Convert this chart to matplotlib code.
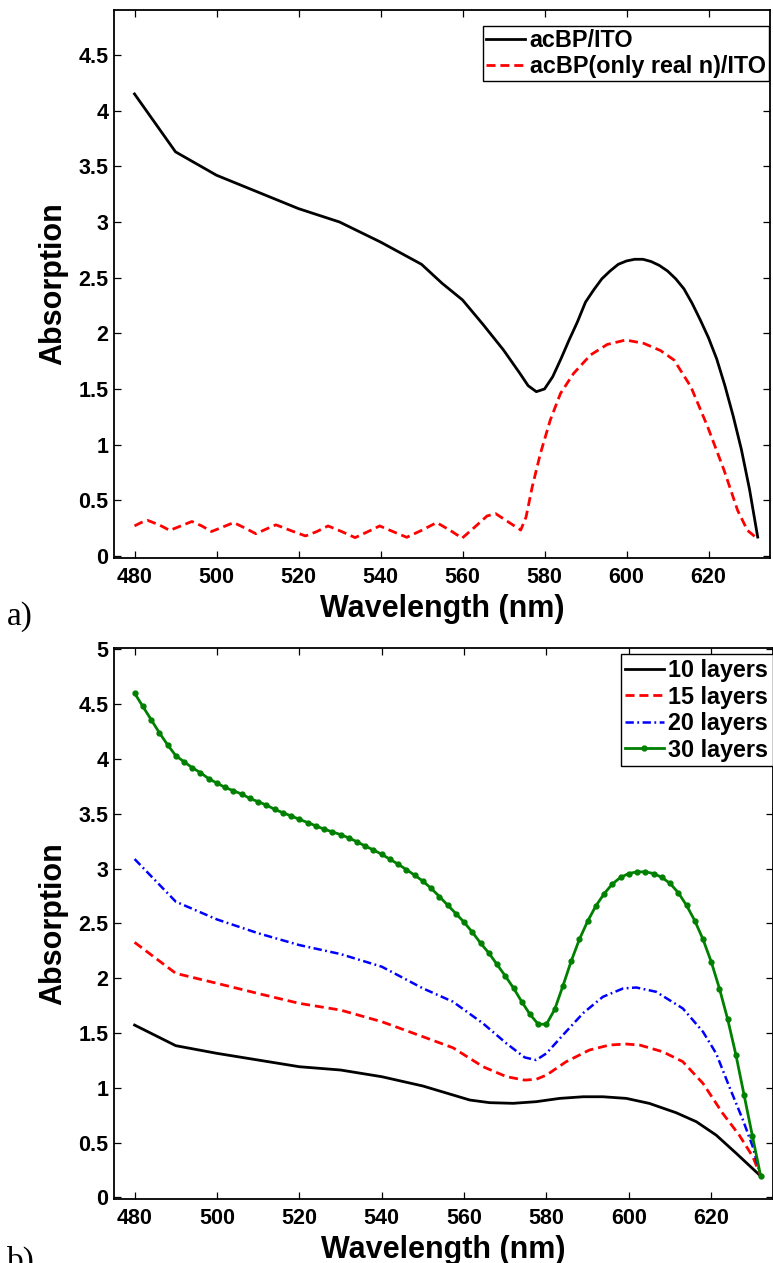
import numpy as np
import matplotlib
matplotlib.use("Agg")
import matplotlib.pyplot as plt
from matplotlib.ticker import FuncFormatter, MultipleLocator

plt.rcParams['font.family'] = ['Liberation Sans', 'DejaVu Sans']
plt.rcParams['font.weight'] = 'bold'
plt.rcParams['lines.scale_dashes'] = False

# ---------------- panel a) data ----------------
a_wl_abs = [480, 490, 500, 510, 520, 530, 540, 550, 555, 560, 565, 570, 574, 576,
            578, 580, 582, 584, 586, 588, 590, 592, 594, 596, 598, 600, 602, 604,
            606, 608, 610, 612, 614, 616, 618, 620, 622, 624, 626, 628, 630, 632]
a_abs = [4.15, 3.63, 3.42, 3.27, 3.12, 3.00, 2.82, 2.62, 2.45, 2.30, 2.08, 1.85, 1.64, 1.53,
         1.476, 1.50, 1.61, 1.77, 1.94, 2.10, 2.28, 2.39, 2.49, 2.56, 2.62, 2.65, 2.665, 2.665,
         2.645, 2.61, 2.56, 2.49, 2.40, 2.27, 2.12, 1.96, 1.77, 1.53, 1.26, 0.96, 0.60, 0.17]

a_wl_real = [480, 481.6, 483.2, 486, 488.6, 491.3, 494, 496.4, 498.8, 501.5, 504.2, 507,
             509.6, 512, 514.5, 518, 521.7, 524.5, 527.2, 530.5, 533.8, 537, 539.8, 543,
             546.4, 550, 553.7, 557, 559.9, 563, 566, 568.1, 571, 574.2, 575.5, 577, 579,
             581.4, 583.9, 587.1, 591.2, 595.3, 599.8, 604.2, 608.3, 611.6, 615.7, 619.8,
             623.8, 627.1, 629.5, 631.8]
a_real = [0.27, 0.30, 0.32, 0.28, 0.23, 0.27, 0.31, 0.27, 0.22, 0.26, 0.30, 0.25,
          0.20, 0.24, 0.28, 0.23, 0.18, 0.22, 0.27, 0.22, 0.165, 0.22, 0.27, 0.22,
          0.168, 0.23, 0.30, 0.23, 0.16, 0.26, 0.36, 0.38, 0.31, 0.233, 0.35, 0.62, 0.92,
          1.22, 1.46, 1.64, 1.805, 1.90, 1.94, 1.91, 1.845, 1.76, 1.52, 1.16,
          0.77, 0.41, 0.23, 0.16]

a_labels = ['acBP/ITO', 'acBP(only real n)/ITO']

# ---------------- panel b) data ----------------
b_wl_10 = [480, 490, 500, 510, 520, 530, 540, 550, 556.5, 561.4, 566.2, 571.9, 577.5,
           583.2, 588.9, 593.7, 599.4, 605, 611.5, 616.4, 621.2, 626.1, 632]
b_10 = [1.572, 1.384, 1.314, 1.253, 1.192, 1.162, 1.101, 1.016, 0.943, 0.888, 0.864, 0.858, 0.873,
        0.903, 0.918, 0.918, 0.903, 0.857, 0.772, 0.690, 0.568, 0.401, 0.194]

b_wl_15 = [480, 490, 500, 510, 520, 530, 540, 550, 557.3, 564.6, 570.3, 574.7, 577.5, 580,
           584.8, 590.4, 595.3, 599.3, 602.6, 608.2, 613.1, 618, 622.8, 626.8, 630.1, 632]
b_15 = [2.327, 2.044, 1.953, 1.86, 1.770, 1.709, 1.603, 1.466, 1.365, 1.192, 1.101, 1.070, 1.077, 1.116,
        1.238, 1.344, 1.390, 1.399, 1.390, 1.329, 1.238, 1.040, 0.766, 0.568, 0.371, 0.194]

b_wl_20 = [480, 490, 500, 510, 520, 530, 540, 550, 557.3, 564.6, 570.3, 574.7, 577.5, 580,
           584, 588.9, 593.7, 598.6, 601.8, 606.6, 613.1, 618, 621.2, 624.4, 627.7, 630.1, 632]
b_20 = [3.087, 2.698, 2.536, 2.41, 2.302, 2.22, 2.105, 1.907, 1.785, 1.587, 1.404, 1.277, 1.253, 1.314,
        1.481, 1.681, 1.830, 1.906, 1.915, 1.876, 1.724, 1.511, 1.313, 1.009, 0.706, 0.461, 0.194]

b_wl_30 = [480, 482, 484, 486, 488, 490, 492, 494, 496, 498, 500, 502, 504, 506, 508, 510,
           512, 514, 516, 518, 520, 522, 524, 526, 528, 530, 532, 534, 536, 538, 540, 542,
           544, 546, 548, 550, 552, 554, 556, 558, 560, 562, 564, 566, 568, 570, 572, 574,
           576, 578, 580, 582, 584, 586, 588, 590, 592, 594, 596, 598, 600, 602, 604, 606,
           608, 610, 612, 614, 616, 618, 620, 622, 624, 626, 628, 630, 632]
b_30 = [4.60, 4.48, 4.36, 4.24, 4.13, 4.03, 3.975, 3.92, 3.875, 3.82, 3.78, 3.74, 3.71, 3.68, 3.64, 3.61,
        3.58, 3.54, 3.51, 3.48, 3.45, 3.42, 3.39, 3.36, 3.335, 3.31, 3.28, 3.245, 3.205, 3.17, 3.13, 3.085,
        3.04, 2.99, 2.94, 2.885, 2.82, 2.745, 2.667, 2.59, 2.51, 2.42, 2.32, 2.23, 2.125, 2.02, 1.91, 1.785,
        1.67, 1.58, 1.58, 1.715, 1.93, 2.155, 2.355, 2.52, 2.66, 2.77, 2.86, 2.92, 2.955, 2.97, 2.97, 2.955,
        2.92, 2.865, 2.78, 2.665, 2.525, 2.355, 2.15, 1.905, 1.625, 1.30, 0.93, 0.56, 0.195]

b_labels = ['10 layers', '15 layers', '20 layers', '30 layers']

xticks = [480, 500, 520, 540, 560, 580, 600, 620]

# ---------------- figure ----------------
W, H = 773, 1263
fig = plt.figure(figsize=(W / 100, H / 100), dpi=100)
ax1 = fig.add_axes([114 / W, 1 - 558 / H, 656 / W, 548 / H])
ax2 = fig.add_axes([114 / W, 1 - 1199 / H, 659 / W, 550.7 / H])

green = (0, 0.5, 0)
dash = (6.5, 3.5)
dashdot = (6.0, 2.5, 1.3, 2.5)

ax1.plot(a_wl_abs, a_abs, color='black', lw=2.0, label=a_labels[0])
ax1.plot(a_wl_real, a_real, color='red', lw=2.0, dashes=dash, label=a_labels[1])

ax2.plot(b_wl_10, b_10, color='black', lw=2.0, label=b_labels[0])
ax2.plot(b_wl_15, b_15, color='red', lw=2.0, dashes=dash, label=b_labels[1])
ax2.plot(b_wl_20, b_20, color='blue', lw=1.8, dashes=dashdot, label=b_labels[2])
ax2.plot(b_wl_30, b_30, color=green, lw=2.0, marker='.', markersize=7, label=b_labels[3])

fmt = FuncFormatter(lambda v, p: '%g' % v)
for ax, ylim in ((ax1, (-0.018, 4.904)), (ax2, (-0.015, 5.01))):
    ax.set_xlim(475, 635)
    ax.set_ylim(*ylim)
    ax.set_xticks(xticks)
    ax.yaxis.set_major_locator(MultipleLocator(0.5))
    ax.yaxis.set_major_formatter(fmt)
    ax.tick_params(direction='in', top=True, right=True, length=4.8, width=0.9,
                   labelsize=15.5)
    ax.tick_params(axis='x', pad=6.5)
    ax.tick_params(axis='y', pad=4)
    for s in ax.spines.values():
        s.set_linewidth(1.3)
    ax.set_xlabel('Wavelength (nm)', fontsize=22, fontweight='bold', labelpad=4)
    ax.set_ylabel('Absorption', fontsize=22, fontweight='bold', labelpad=7)

leg1 = ax1.legend(loc='upper right', bbox_to_anchor=(0.9985, 0.971), borderaxespad=0,
                  fontsize=16.8, frameon=True, fancybox=False, edgecolor='black',
                  framealpha=1, handlelength=1.65, handletextpad=0.2, borderpad=0.15,
                  labelspacing=0.1)
leg1.get_frame().set_linewidth(1.0)

leg2 = ax2.legend(loc='upper right', bbox_to_anchor=(1.0, 0.989), borderaxespad=0,
                  fontsize=16.8, frameon=True, fancybox=False, edgecolor='black',
                  framealpha=1, handlelength=1.65, handletextpad=0.2, borderpad=0.2,
                  labelspacing=0.15, numpoints=1)
leg2.get_frame().set_linewidth(1.0)

fig.text(7 / W, 1 - 625 / H, 'a)', fontsize=24, family='Liberation Serif',
         fontweight='normal', va='baseline', ha='left')
fig.text(7 / W, 1 - 1270 / H, 'b)', fontsize=24, family='Liberation Serif',
         fontweight='normal', va='baseline', ha='left')

fig.savefig('out.png', dpi=100)
